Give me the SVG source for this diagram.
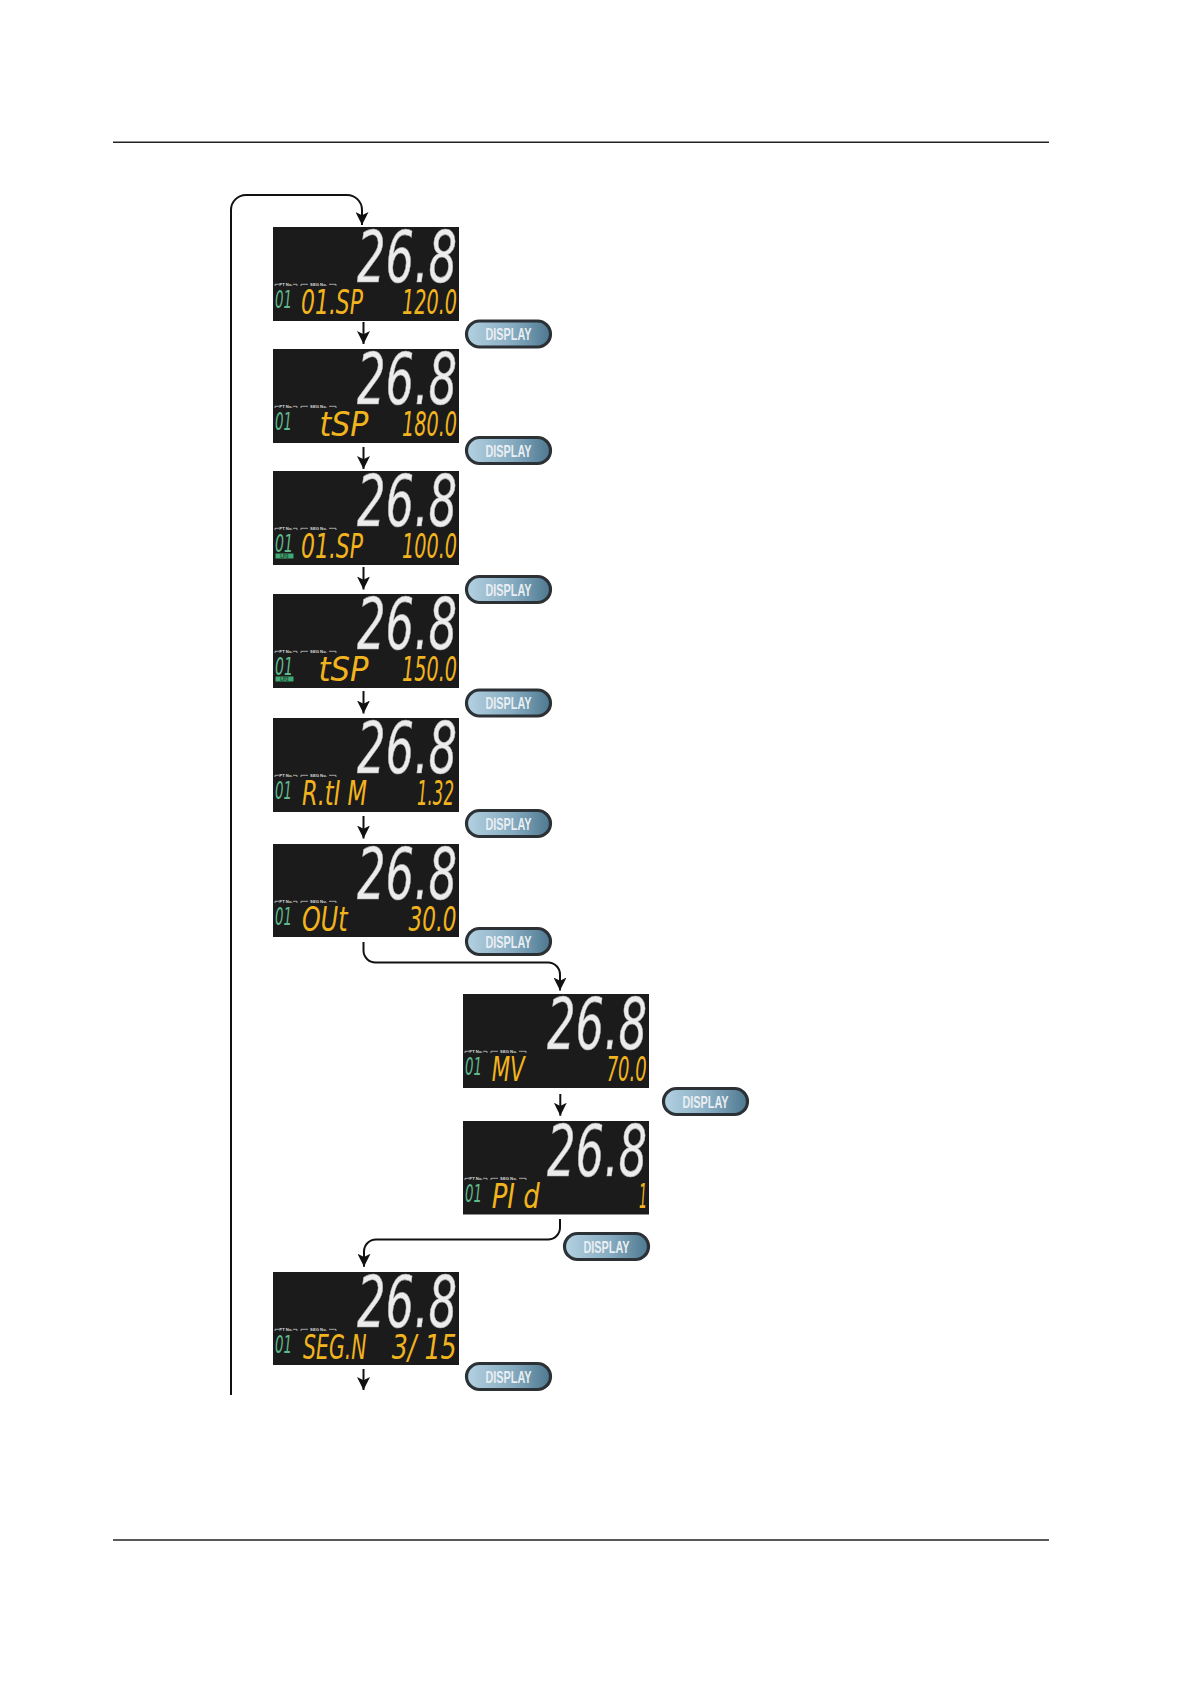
<svg xmlns="http://www.w3.org/2000/svg" width="1191" height="1684" viewBox="0 0 1191 1684">
<defs>
<style>
.rule{stroke:#222;stroke-width:1.4;fill:none}
.scr{fill:#1b1b1b}
.big{font-family:"DejaVu Sans Condensed","DejaVu Sans",sans-serif;font-style:italic;font-size:71px;fill:#ececec;stroke:#a8a8a8;stroke-width:0.6}
.yl{font-family:"DejaVu Sans Condensed","DejaVu Sans",sans-serif;font-style:italic;font-size:33px;fill:#f2b41e}
.gr{font-family:"DejaVu Sans Condensed","DejaVu Sans",sans-serif;font-style:italic;font-size:24px;fill:#5fb98c}
.lbl{font-family:"Liberation Sans Narrow","Liberation Sans",sans-serif;font-size:4.2px;fill:#dddddd;font-weight:bold}
.brk{stroke:#dddddd;stroke-width:0.7;fill:none}
.lp{fill:#3fa873}
.lpt{font-family:"Liberation Sans",sans-serif;font-size:4.5px;fill:#1b3b2b;font-weight:bold}
.btnr{fill:url(#bg);stroke:#2c3136;stroke-width:3.2}
.btnt{font-family:"Liberation Sans Narrow","Liberation Sans",Arial,sans-serif;font-weight:bold;font-size:17px;fill:#e9eef2}
.cn{stroke:#111;stroke-width:2;fill:none}
</style>
<linearGradient id="bg" x1="0" y1="0" x2="1" y2="0">
<stop offset="0" stop-color="#b3d1e1"/>
<stop offset="0.55" stop-color="#86abc0"/>
<stop offset="1" stop-color="#4d7890"/>
</linearGradient>
<marker id="ah" viewBox="0 0 12 12" refX="12" refY="6" markerWidth="13" markerHeight="13" markerUnits="userSpaceOnUse" orient="auto">
<path d="M0,0 L12,6 L0,12 L3,6 Z" fill="#111"/>
</marker>
<g id="labels">
<path class="brk" d="M2,59 V57.3 H6 M20,57.3 H24 V59"/>
<text class="lbl" x="13" y="58.8" text-anchor="middle">PT No.</text>
<path class="brk" d="M28,59 V57.3 H35 M56,57.3 H63 V59"/>
<text class="lbl" x="45.5" y="58.8" text-anchor="middle">SEG No.</text>
</g>
</defs>
<rect width="1191" height="1684" fill="#ffffff"/>
<line class="rule" x1="113" y1="142.3" x2="1049" y2="142.3"/>
<line class="rule" x1="113" y1="1540" x2="1049" y2="1540"/>

<g id="connectors">
<path class="cn" d="M231,1395 V210 A15,15 0 0 1 246,195 H347 A15,15 0 0 1 362,210 V225" marker-end="url(#ah)"/>
<path class="cn" d="M363.5,322 V344" marker-end="url(#ah)"/>
<path class="cn" d="M363.5,447 V469" marker-end="url(#ah)"/>
<path class="cn" d="M363.5,567 V589.5" marker-end="url(#ah)"/>
<path class="cn" d="M363.5,691 V713.5" marker-end="url(#ah)"/>
<path class="cn" d="M363.5,816 V838.5" marker-end="url(#ah)"/>
<path class="cn" d="M363.5,942 V950.5 A12,12 0 0 0 375.5,962.5 H548 A12,12 0 0 1 560,974.5 V990.5" marker-end="url(#ah)"/>
<path class="cn" d="M560.3,1094 V1115.7" marker-end="url(#ah)"/>
<path class="cn" d="M560,1219 V1227.5 A12,12 0 0 1 548,1239.5 H376 A12,12 0 0 0 364,1251.5 V1266.7" marker-end="url(#ah)"/>
<path class="cn" d="M363.5,1369 V1390" marker-end="url(#ah)"/>
</g>

<g id="d1" transform="translate(273,227)">
<rect class="scr" width="186" height="94"/>
<text class="big" x="84" y="55" textLength="100" lengthAdjust="spacingAndGlyphs">26.8</text>
<use href="#labels"/>
<text class="gr" x="2" y="81" textLength="17" lengthAdjust="spacingAndGlyphs">01</text>
<text class="yl" x="28" y="86.5" textLength="62" lengthAdjust="spacingAndGlyphs">01.SP</text>
<text class="yl" x="129" y="86.5" textLength="55" lengthAdjust="spacingAndGlyphs">120.0</text>
</g>

<g id="d2" transform="translate(273,349)">
<rect class="scr" width="186" height="94"/>
<text class="big" x="84" y="55" textLength="100" lengthAdjust="spacingAndGlyphs">26.8</text>
<use href="#labels"/>
<text class="gr" x="2" y="81" textLength="17" lengthAdjust="spacingAndGlyphs">01</text>
<text class="yl" x="46.5" y="86.5" textLength="49" lengthAdjust="spacingAndGlyphs">tSP</text>
<text class="yl" x="129" y="86.5" textLength="55" lengthAdjust="spacingAndGlyphs">180.0</text>
</g>

<g id="d3" transform="translate(273,471)">
<rect class="scr" width="186" height="94"/>
<text class="big" x="84" y="55" textLength="100" lengthAdjust="spacingAndGlyphs">26.8</text>
<use href="#labels"/>
<text class="gr" x="2" y="81" textLength="18" lengthAdjust="spacingAndGlyphs">01</text>
<rect class="lp" x="2.5" y="82.5" width="18" height="5"/>
<text class="lpt" x="11.5" y="86.6" text-anchor="middle">LP2</text>
<text class="yl" x="28" y="86.5" textLength="62" lengthAdjust="spacingAndGlyphs">01.SP</text>
<text class="yl" x="129" y="86.5" textLength="55" lengthAdjust="spacingAndGlyphs">100.0</text>
</g>

<g id="d4" transform="translate(273,594)">
<rect class="scr" width="186" height="94"/>
<text class="big" x="84" y="55" textLength="100" lengthAdjust="spacingAndGlyphs">26.8</text>
<use href="#labels"/>
<text class="gr" x="2" y="81" textLength="18" lengthAdjust="spacingAndGlyphs">01</text>
<rect class="lp" x="2.5" y="82.5" width="18" height="5"/>
<text class="lpt" x="11.5" y="86.6" text-anchor="middle">LP2</text>
<text class="yl" x="45.5" y="86.5" textLength="50" lengthAdjust="spacingAndGlyphs">tSP</text>
<text class="yl" x="129" y="86.5" textLength="55" lengthAdjust="spacingAndGlyphs">150.0</text>
</g>

<g id="d5" transform="translate(273,718)">
<rect class="scr" width="186" height="94"/>
<text class="big" x="84" y="55" textLength="100" lengthAdjust="spacingAndGlyphs">26.8</text>
<use href="#labels"/>
<text class="gr" x="2" y="81" textLength="17" lengthAdjust="spacingAndGlyphs">01</text>
<text class="yl" x="29" y="86.5" textLength="65" lengthAdjust="spacingAndGlyphs">R.tI M</text>
<text class="yl" x="144" y="86.5" textLength="37" lengthAdjust="spacingAndGlyphs">1.32</text>
</g>

<g id="d6" transform="translate(273,844)">
<rect class="scr" width="186" height="93"/>
<text class="big" x="84" y="55" textLength="100" lengthAdjust="spacingAndGlyphs">26.8</text>
<use href="#labels"/>
<text class="gr" x="2" y="81" textLength="17" lengthAdjust="spacingAndGlyphs">01</text>
<text class="yl" x="29" y="86.5" textLength="45.5" lengthAdjust="spacingAndGlyphs">OUt</text>
<text class="yl" x="135.5" y="86.5" textLength="48" lengthAdjust="spacingAndGlyphs">30.0</text>
</g>

<g id="d7" transform="translate(463,994)">
<rect class="scr" width="186" height="94"/>
<text class="big" x="84" y="55" textLength="100" lengthAdjust="spacingAndGlyphs">26.8</text>
<use href="#labels"/>
<text class="gr" x="2" y="81" textLength="17" lengthAdjust="spacingAndGlyphs">01</text>
<text class="yl" x="28.7" y="86.5" textLength="33" lengthAdjust="spacingAndGlyphs">MV</text>
<text class="yl" x="143.7" y="86.5" textLength="40" lengthAdjust="spacingAndGlyphs">70.0</text>
</g>

<g id="d8" transform="translate(463,1121)">
<rect class="scr" width="186" height="93.5"/>
<text class="big" x="84" y="55" textLength="100" lengthAdjust="spacingAndGlyphs">26.8</text>
<use href="#labels"/>
<text class="gr" x="2" y="81" textLength="17" lengthAdjust="spacingAndGlyphs">01</text>
<text class="yl" x="28.7" y="86.5" textLength="48" lengthAdjust="spacingAndGlyphs">PI d</text>
<text class="yl" x="176" y="86.5" textLength="8" lengthAdjust="spacingAndGlyphs">1</text>
</g>

<g id="d9" transform="translate(273,1272)">
<rect class="scr" width="186" height="93"/>
<text class="big" x="84" y="55" textLength="100" lengthAdjust="spacingAndGlyphs">26.8</text>
<use href="#labels"/>
<text class="gr" x="2" y="81" textLength="17" lengthAdjust="spacingAndGlyphs">01</text>
<text class="yl" x="30" y="86.5" textLength="63.5" lengthAdjust="spacingAndGlyphs">SEG.N</text>
<text class="yl" x="118.7" y="86.5" textLength="65" lengthAdjust="spacingAndGlyphs">3/ 15</text>
</g>

<g id="b1" transform="translate(465,319.5)"><rect class="btnr" x="1.5" y="1.5" width="84" height="26" rx="13"/><text class="btnt" x="43.5" y="20.5" text-anchor="middle" textLength="46" lengthAdjust="spacingAndGlyphs">DISPLAY</text></g>
<g id="b2" transform="translate(465,436)"><rect class="btnr" x="1.5" y="1.5" width="84" height="26" rx="13"/><text class="btnt" x="43.5" y="20.5" text-anchor="middle" textLength="46" lengthAdjust="spacingAndGlyphs">DISPLAY</text></g>
<g id="b3" transform="translate(465,575)"><rect class="btnr" x="1.5" y="1.5" width="84" height="26" rx="13"/><text class="btnt" x="43.5" y="20.5" text-anchor="middle" textLength="46" lengthAdjust="spacingAndGlyphs">DISPLAY</text></g>
<g id="b4" transform="translate(465,688.5)"><rect class="btnr" x="1.5" y="1.5" width="84" height="26" rx="13"/><text class="btnt" x="43.5" y="20.5" text-anchor="middle" textLength="46" lengthAdjust="spacingAndGlyphs">DISPLAY</text></g>
<g id="b5" transform="translate(465,809)"><rect class="btnr" x="1.5" y="1.5" width="84" height="26" rx="13"/><text class="btnt" x="43.5" y="20.5" text-anchor="middle" textLength="46" lengthAdjust="spacingAndGlyphs">DISPLAY</text></g>
<g id="b6" transform="translate(465,927)"><rect class="btnr" x="1.5" y="1.5" width="84" height="26" rx="13"/><text class="btnt" x="43.5" y="20.5" text-anchor="middle" textLength="46" lengthAdjust="spacingAndGlyphs">DISPLAY</text></g>
<g id="b7" transform="translate(662,1087)"><rect class="btnr" x="1.5" y="1.5" width="84" height="26" rx="13"/><text class="btnt" x="43.5" y="20.5" text-anchor="middle" textLength="46" lengthAdjust="spacingAndGlyphs">DISPLAY</text></g>
<g id="b8" transform="translate(563,1232)"><rect class="btnr" x="1.5" y="1.5" width="84" height="26" rx="13"/><text class="btnt" x="43.5" y="20.5" text-anchor="middle" textLength="46" lengthAdjust="spacingAndGlyphs">DISPLAY</text></g>
<g id="b9" transform="translate(465,1362)"><rect class="btnr" x="1.5" y="1.5" width="84" height="26" rx="13"/><text class="btnt" x="43.5" y="20.5" text-anchor="middle" textLength="46" lengthAdjust="spacingAndGlyphs">DISPLAY</text></g>
</svg>
